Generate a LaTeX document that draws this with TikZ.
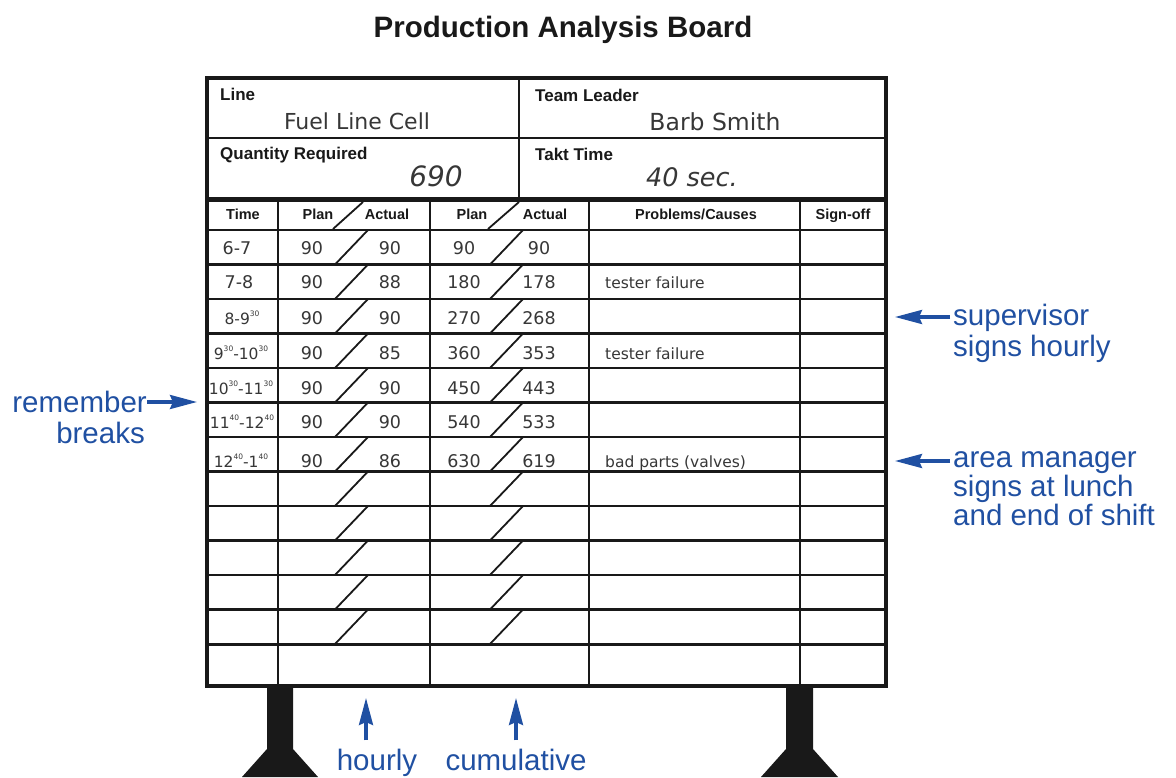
\documentclass[tikz,border=0pt]{standalone}
\usepackage{fontspec}
\setmainfont{Liberation Sans}
\newfontfamily\hand{DejaVu Sans}
\usetikzlibrary{arrows.meta}
\definecolor{annblue}{RGB}{32,80,162}
\definecolor{ink}{RGB}{25,25,25}
\definecolor{pen}{RGB}{55,55,55}
\newcommand\sps[1]{\raisebox{0.5em}{\fontsize{7.5}{8}\selectfont #1}}
\begin{document}
\begin{tikzpicture}[x=1pt,y=-1pt,
  gridln/.style={draw=ink,line width=2.4pt},
  frameln/.style={draw=ink,line width=3.5pt},
  slashln/.style={draw=ink,line width=1.8pt},
  lbl/.style={inner sep=0pt,font=\bfseries\fontsize{17}{20}\selectfont,text=ink},
  colhd/.style={inner sep=0pt,font=\bfseries\fontsize{14.5}{17}\selectfont,text=ink},
  entry/.style={inner sep=0pt,font=\hand\fontsize{17.5}{20}\selectfont,text=pen},
  timeentry/.style={inner sep=0pt,font=\hand\fontsize{15.5}{18}\selectfont,text=pen},
  note/.style={inner sep=0pt,font=\hand\fontsize{15.5}{18}\selectfont,text=pen},
  big/.style={inner sep=0pt,text=pen},
  ann/.style={inner sep=0pt,font=\fontsize{29.5}{30}\selectfont,text=annblue},
  annarrow/.style={draw=annblue,line width=3.2pt,-{Stealth[length=27pt,width=14pt,inset=3pt]}},
  legfill/.style={fill=ink}
]
\useasboundingbox (0,0) rectangle (1176,778);

% title
\node[inner sep=0pt,font=\bfseries\fontsize{29.5}{32}\selectfont,text=ink,anchor=base] (title) at (563,38) {Production Analysis Board};

% legs
\fill[legfill] (267,686) -- (267,749) -- (242,777) -- (318,777) -- (293,749) -- (293,686) -- cycle;
\fill[legfill] (786,686) -- (786,749) -- (761,777) -- (838,777) -- (813,749) -- (813,686) -- cycle;

% board grid
\fill[white] (207,78) rectangle (886,686);
\draw[gridln] (207,138) -- (886,138);
\draw[gridln] (519,78) -- (519,199);
\draw[draw=ink,line width=4.5pt] (207,199.5) -- (886,199.5);
\draw[gridln] (207,230) -- (886,230);
\foreach \k in {1,...,11} {
  \draw[gridln] (207,230+34.5*\k) -- (886,230+34.5*\k);
}
\draw[draw=ink,line width=3pt] (207,644.5) -- (886,644.5);
\foreach \xx in {278,430,589,800} {
  \draw[gridln] (\xx,199) -- (\xx,686);
}
% slashes
\draw[slashln] (333,229) -- (363,202);
\draw[slashln] (488,229) -- (519,202);
\foreach \k in {0,...,11} {
  \draw[slashln] (335,230+34.5*\k+34.5) -- (368,230+34.5*\k);
  \draw[slashln] (490,230+34.5*\k+34.5) -- (523,230+34.5*\k);
}
\draw[frameln] (207,78) rectangle (886,686);

% header texts
\node[lbl,anchor=base west] (lineL) at (220,101) {Line};
\node[big,font=\hand\fontsize{22}{24}\selectfont,anchor=base] (lineV) at (357,130) {Fuel Line Cell};
\node[lbl,anchor=base west] (tlL) at (535,102) {Team Leader};
\node[big,font=\hand\fontsize{23.5}{26}\selectfont,anchor=base] (tlV) at (715,131) {Barb Smith};
\node[lbl,anchor=base west] (qrL) at (220,160) {Quantity Required};
\node[big,font=\hand\itshape\fontsize{28}{30}\selectfont,anchor=base east] (qrV) at (463,187) {690};
\node[lbl,anchor=base west] (ttL) at (535,161) {Takt Time};
\node[big,font=\hand\itshape\fontsize{25.5}{28}\selectfont,anchor=base] (ttV) at (692,187) {40 sec.};

% column heads
\node[colhd,anchor=base] (hTime) at (243,220) {Time};
\node[colhd,anchor=base] (hPlan1) at (318,220) {Plan};
\node[colhd,anchor=base] (hAct1) at (387,220) {Actual};
\node[colhd,anchor=base] (hPlan2) at (472,220) {Plan};
\node[colhd,anchor=base] (hAct2) at (545,220) {Actual};
\node[colhd,anchor=base] (hProb) at (696,220) {Problems/Causes};
\node[colhd,anchor=base] (hSign) at (843,220) {Sign-off};

% time column
\node[entry,anchor=base] (tm1) at (237,255) {6-7};
\node[entry,anchor=base] (tm2) at (239,289) {7-8};
\node[timeentry,anchor=base] (tm3) at (242,324) {8-9\sps{30}};
\node[timeentry,anchor=base] (tm4) at (241,359) {9\sps{30}-10\sps{30}};
\node[timeentry,anchor=base] (tm5) at (241,394) {10\sps{30}-11\sps{30}};
\node[timeentry,anchor=base] (tm6) at (242,428) {11\sps{40}-12\sps{40}};
\node[timeentry,anchor=base] (tm7) at (241,467) {12\sps{40}-1\sps{40}};

% data rows
\foreach \i/\by/\hp/\ha/\cp/\ca in {
  1/255/90/90/90/90,
  2/289/90/88/180/178,
  3/324/90/90/270/268,
  4/359/90/85/360/353,
  5/394/90/90/450/443,
  6/428/90/90/540/533,
  7/467/90/86/630/619} {
  \node[entry,anchor=base] (hp\i) at (312,\by) {\hp};
  \node[entry,anchor=base] (ha\i) at (390,\by) {\ha};
  \node[entry,anchor=base] (cp\i) at (464,\by) {\cp};
  \node[entry,anchor=base] (ca\i) at (539,\by) {\ca};
}
\node[note,anchor=base west] (pr2) at (605,289) {tester failure};
\node[note,anchor=base west] (pr4) at (605,359) {tester failure};
\node[note,anchor=base west] (pr7) at (605,467) {bad parts (valves)};

% annotations
\node[ann,anchor=base east] (rem1) at (147,412) {remember};
\node[ann,anchor=base east] (rem2) at (145,443) {breaks};
\coordinate (remTip) at (197,402);
\draw[annarrow] (rem1.east |- remTip) -- (remTip);

\node[ann,anchor=base west] (sup1) at (953,325) {supervisor};
\node[ann,anchor=base west] (sup2) at (953,356) {signs hourly};
\coordinate (supTip) at (895,317);
\draw[annarrow,shorten <=3pt] (sup1.west |- supTip) -- (supTip);

\node[ann,anchor=base west] (am1) at (953,467) {area manager};
\node[ann,anchor=base west] (am2) at (953,496) {signs at lunch};
\node[ann,anchor=base west] (am3) at (953,525) {and end of shift};
\coordinate (amTip) at (895,461);
\draw[annarrow,shorten <=3pt] (am1.west |- amTip) -- (amTip);

\node[ann,anchor=base] (hr) at (377,770) {hourly};
\coordinate (hrTip) at (366,698);
\draw[annarrow,shorten <=8pt] (hrTip |- hr.north) -- (hrTip);

\node[ann,anchor=base] (cu) at (516,770) {cumulative};
\coordinate (cuTip) at (516,698);
\draw[annarrow,shorten <=8pt] (cuTip |- cu.north) -- (cuTip);
\end{tikzpicture}
\end{document}
